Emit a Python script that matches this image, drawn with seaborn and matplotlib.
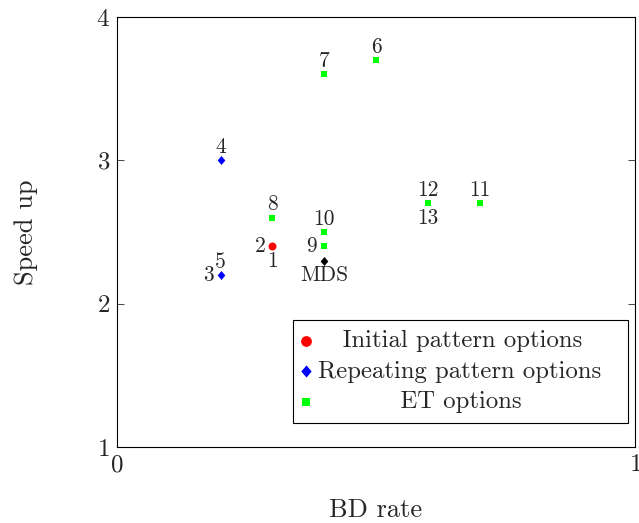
import pandas as pd
import seaborn as sns
import matplotlib.pyplot as plt

# data
bd_rate = [0.3, 0.2, 0.2, 0.4, 0.5, 0.3, 0.4, 0.4, 0.6, 0.7]
speed_up = [2.4, 3.0, 2.2, 3.6, 3.7, 2.6, 2.5, 2.4, 2.7, 2.7]
group = ['Initial pattern options', 'Repeating pattern options', 'Repeating pattern options',
         'ET options', 'ET options', 'ET options', 'ET options', 'ET options', 'ET options', 'ET options']

mds_x = [0.4]
mds_y = [2.3]

# point labels: (x, y, text, side)
point_labels = [
    (0.3, 2.4, '2', 'left'), (0.3, 2.4, '1', 'below'),
    (0.2, 3.0, '4', 'above'),
    (0.2, 2.2, '5', 'above'), (0.2, 2.2, '3', 'left'),
    (0.4, 3.6, '7', 'above'), (0.5, 3.7, '6', 'above'),
    (0.3, 2.6, '8', 'above'), (0.4, 2.5, '10', 'above'),
    (0.4, 2.4, '9', 'left'),
    (0.6, 2.7, '12', 'above'), (0.6, 2.7, '13', 'below'),
    (0.7, 2.7, '11', 'above'),
    (0.4, 2.3, 'MDS', 'below'),
]

df = pd.DataFrame({'BD rate': bd_rate, 'Speed up': speed_up, 'group': group})

sns.set_theme(style='ticks')
plt.rcParams['font.family'] = ['cmr10', 'DejaVu Serif']
plt.rcParams['mathtext.fontset'] = 'cm'
plt.rcParams['axes.formatter.use_mathtext'] = True

fig = plt.figure(figsize=(6.39, 5.23), dpi=100)
ax = fig.add_axes([0.1831, 0.1453, 0.8106, 0.8222])

diamond = [(0, 1), (0.85, 0), (0, -1), (-0.85, 0), (0, 1)]

palette = {'Initial pattern options': '#ff0000',
           'Repeating pattern options': '#0000ff',
           'ET options': '#00ff00'}
markers = {'Initial pattern options': 'o',
           'Repeating pattern options': diamond,
           'ET options': 's'}
sizes = {'Initial pattern options': 33,
         'Repeating pattern options': 42,
         'ET options': 19}
# pad legend text so it looks centred like the original
legend_names = {'Initial pattern options': '   Initial pattern options  ',
                'Repeating pattern options': 'Repeating pattern options  ',
                'ET options': '          ET options         '}

for g in palette:
    sub = df[df['group'] == g]
    sns.scatterplot(data=sub, x='BD rate', y='Speed up', color=palette[g], marker=markers[g],
                    s=sizes[g], linewidth=0, ax=ax, label=legend_names[g], zorder=3)

sns.scatterplot(x=mds_x, y=mds_y, color='black', marker=diamond, s=42, linewidth=0, ax=ax, zorder=3)

offsets = {'above': (0, 2.5, 'center', 'bottom'),
           'below': (0, -3.5, 'center', 'top'),
           'left': (-5, 0, 'right', 'center')}
for x, y, t, side in point_labels:
    dx, dy, ha, va = offsets[side]
    ax.annotate(t, (x, y), xytext=(dx, dy), textcoords='offset points',
                ha=ha, va=va, fontsize=15.5)

ax.set_xlim(0, 1)
ax.set_ylim(1, 4)
ax.set_xticks([0, 1])
ax.set_yticks([1, 2, 3, 4])
ax.tick_params(direction='in', top=True, right=True, labelsize=18, length=5, width=0.6, pad=5)
for sp in ax.spines.values():
    sp.set_linewidth(0.8)
    sp.set_color('black')
ax.set_xlabel('BD rate', fontsize=19, labelpad=16)
ax.set_ylabel('Speed up', fontsize=19, labelpad=42)

leg = ax.legend(loc='lower right', bbox_to_anchor=(0.9865, 0.0558), fontsize=17.8, frameon=True,
                fancybox=False, edgecolor='black', framealpha=1, handletextpad=0.34,
                borderpad=0.4, labelspacing=0.33, handlelength=0.3, borderaxespad=0,
                markerscale=1.35)
leg.get_frame().set_linewidth(0.8)

plt.savefig('out.png', dpi=100)
